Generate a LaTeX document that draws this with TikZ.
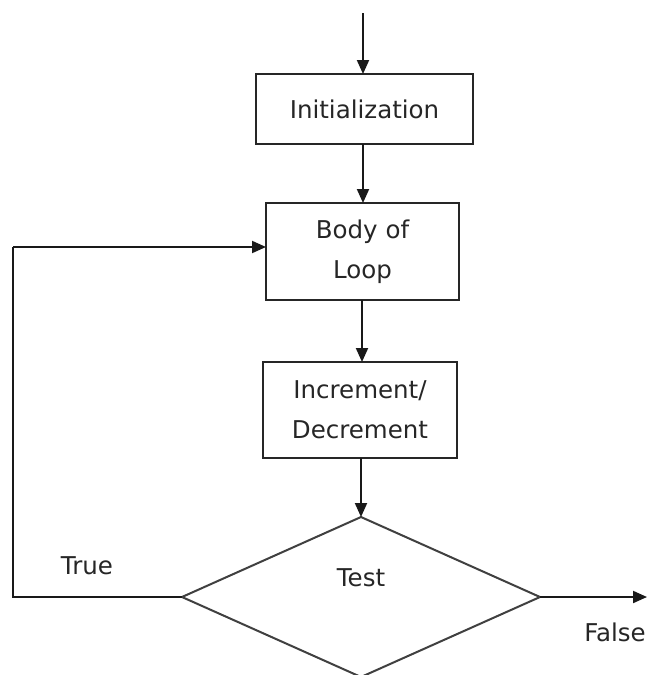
\documentclass[tikz,border=0pt]{standalone}
\usepackage{fontspec}
\setmainfont{DejaVu Sans}
\usetikzlibrary{shapes.geometric,arrows.meta}
\begin{document}
\begin{tikzpicture}[x=1pt,y=-1pt,
  every node/.style={font=\fontsize{24.5}{40}\selectfont, text=black!85},
  flowbox/.style={draw=black!85, line width=2pt, rectangle, inner sep=0pt, outer sep=0pt, align=center},
  decision/.style={draw=black!75, line width=2pt, diamond, inner sep=0pt, outer sep=0pt},
  conn/.style={draw=black!90, line width=2pt},
  arr/.style={conn, -{Triangle[length=14pt,width=12pt]}},
  lbl/.style={inner sep=0pt}
]
\useasboundingbox (0,0) rectangle (647,675);
\fill[white] (0,0) rectangle (647,675);

\node[flowbox, minimum width=217pt, minimum height=70pt] (init) at (364.5,109) {Initialization};
\node[flowbox, minimum width=193pt, minimum height=97pt] (body) at (362.5,251.5) {Body of\\Loop};
\node[flowbox, minimum width=194pt, minimum height=96pt] (incr) at (360,410) {Increment/\\Decrement};
\node[decision, minimum width=358pt, minimum height=160pt] (test) at (361,597) {};
\node[lbl] (testlbl) at (361,578) {Test};
\node[lbl] (truelbl) at (87,566) {True};
\node[lbl] (falselbl) at (615,632) {False};

\coordinate (start) at (363,13);
\coordinate (lp) at (13,247);
\coordinate (fend) at (647,597);

\draw[arr] (start) -- (start |- init.north);
\draw[arr] (init.south -| 363,0) -- (body.north -| 363,0);
\draw[arr] (body.south -| 362,0) -- (incr.north -| 362,0);
\draw[arr] (incr.south -| 361,0) -- (test.north);
\draw[conn] (test.west) -| (lp);
\draw[arr] (lp) -- (lp -| body.west);
\draw[arr] (test.east) -- (fend);
\end{tikzpicture}
\end{document}
